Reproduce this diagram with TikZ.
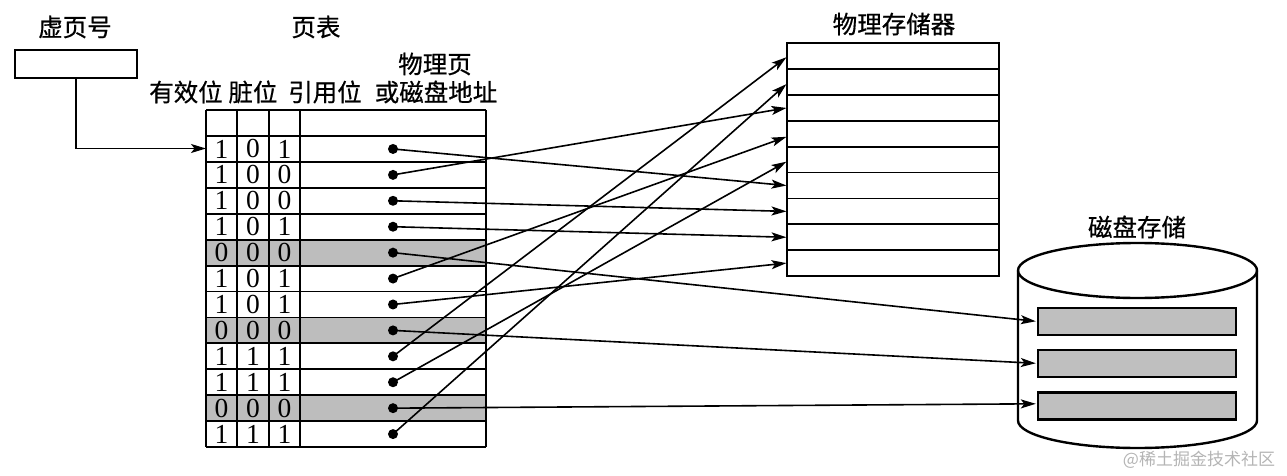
\documentclass[tikz,border=0pt]{standalone}
\usepackage{fontspec}
\setmainfont{Liberation Serif}
\newfontfamily\cjk[FakeBold=0.6]{Noto Sans CJK SC}
\newfontfamily\cjkwm{Noto Sans CJK SC}
\usetikzlibrary{arrows.meta,calc}
\definecolor{rowgray}{HTML}{BDBDBD}
\definecolor{diskgray}{HTML}{BFBFBF}
\definecolor{wmgray}{HTML}{B4B4B4}
\begin{document}
\begin{tikzpicture}[x=1pt,y=-1pt,
  arr/.style={line width=1.6pt,-{Stealth[length=15pt,width=9pt,inset=3.5pt]}},
  lbl/.style={font=\cjk\fontsize{24.5}{24.5}\selectfont,inner sep=0pt},
  dig/.style={font=\fontsize{27.5}{27.5}\selectfont,inner sep=0pt},
  dotn/.style={circle,fill,inner sep=0pt,minimum size=10pt},
  slot/.style={draw,line width=1.7pt,minimum width=212pt,minimum height=25.86pt,inner sep=0pt},
  dslot/.style={draw,line width=2.4pt,fill=diskgray,minimum width=198pt,minimum height=27pt,inner sep=0pt},
  gridline/.style={line width=1.8pt}]
\useasboundingbox (0,0) rectangle (1287,476);

% labels
\node[lbl] (l1) at (75,27) {虚页号};
\node[lbl] (l2) at (316,27) {页表};
\node[lbl] (l3) at (435,64) {物理页};
\node[lbl] (l4) at (186,92) {有效位};
\node[lbl] (l5) at (253,92) {脏位};
\node[lbl] (l6) at (325,92) {引用位};
\node[lbl] (l7) at (436,92) {或磁盘地址};
\node[lbl] (l8) at (894,24) {物理存储器};
\node[lbl] (l9) at (1137,227) {磁盘存储};
\node[font=\cjkwm\fontsize{17}{17}\selectfont,text=wmgray,inner sep=0pt] (wm) at (1199,460) {@稀土掘金技术社区};

% virtual page box
\node[draw,line width=2.6pt,minimum width=122pt,minimum height=28pt,inner sep=0pt] (vp) at (76,64) {};
\coordinate (tin) at (206,148.5);
\draw[arr] (vp.south) |- (tin);

% page table
\foreach \r in {5,8,11} \fill[rowgray] (206,{136+(\r-1)*25.92}) rectangle (486,{136+\r*25.92});
\draw[gridline] (206,110) -- (486,110);
\foreach \i in {0,...,12} \draw[gridline] (206,{136+\i*25.92}) -- (486,{136+\i*25.92});
\foreach \x in {206,237,269,300,486} \draw[gridline] (\x,110) -- (\x,447.04);
\foreach \r/\a/\b/\c in {1/1/0/1,2/1/0/0,3/1/0/0,4/1/0/1,5/0/0/0,6/1/0/1,7/1/0/1,8/0/0/0,9/1/1/1,10/1/1/1,11/0/0/0,12/1/1/1}{
  \node[dig] (a\r) at (221.5,{136+(\r-0.5)*25.92}) {\a};
  \node[dig] (b\r) at (253,{136+(\r-0.5)*25.92}) {\b};
  \node[dig] (c\r) at (284.5,{136+(\r-0.5)*25.92}) {\c};
}
\foreach \r in {1,...,12} \node[dotn] (d\r) at (393,{136+(\r-0.5)*25.92}) {};

% physical memory
\foreach \i in {1,...,9} \node[slot] (m\i) at (893.3,{43.3+(\i-0.5)*25.86}) {};

% disk
\draw[line width=2.4pt,fill=white] (1018,270.5) -- (1018,420.5) arc[start angle=180,end angle=360,x radius=119.5pt,y radius=27.5pt] -- (1257,270.5);
\draw[line width=2.4pt] (1137.5,270.5) ellipse [x radius=119.5pt,y radius=27.5pt];
\node[dslot] (k1) at (1137,321.3) {};
\node[dslot] (k2) at (1137,363.3) {};
\node[dslot] (k3) at (1137,405.8) {};

% mappings
\draw[arr] (d1.center) -- (m6.west);
\draw[arr] (d2.center) -- (m3.west);
\draw[arr] (d3.center) -- (m7.west);
\draw[arr] (d4.center) -- (m8.west);
\draw[arr] (d6.center) -- ([yshift=-3pt]m4.west);
\draw[arr] (d7.center) -- (m9.west);
\draw[arr] (d9.center) -- ([yshift=-1pt]m1.west);
\draw[arr] (d10.center) -- ([yshift=-2pt]m5.west);
\draw[arr] (d12.center) -- ([yshift=-2pt]m2.west);
\draw[arr] (d5.center) -- ([xshift=-1pt]k1.west);
\draw[arr] (d8.center) -- ([xshift=-1pt]k2.west);
\draw[arr] (d11.center) -- ([xshift=-1pt,yshift=2pt]k3.west);
\end{tikzpicture}
\end{document}
